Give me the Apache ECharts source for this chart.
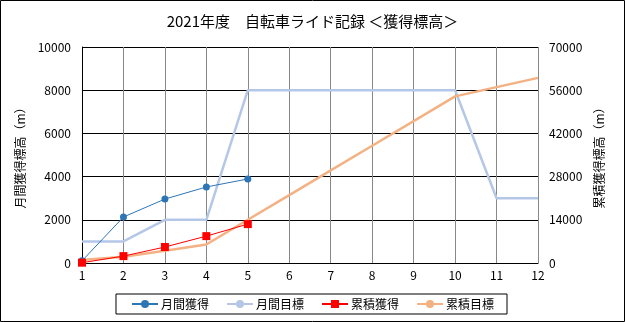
<!DOCTYPE html>
<html><head><meta charset="utf-8">
<script src="https://cdn.jsdelivr.net/npm/echarts@6/dist/echarts.min.js"></script>
<style>html,body{margin:0;padding:0;background:#fff}#c{width:625px;height:322px}</style>
</head><body><div id="c"></div>
<script>
const months = [1,2,3,4,5,6,7,8,9,10,11,12];
const monthlyActual = [100, 2130, 2960, 3520, 3890];
const monthlyTarget = [1000, 1000, 2000, 2000, 8000, 8000, 8000, 8000, 8000, 8000, 3000, 3000];
const cumActual = [100, 2230, 5190, 8710, 12600];
const cumTarget = [1000, 2000, 4000, 6000, 14000, 22000, 30000, 38000, 46000, 54000, 57000, 60000];
const leftTicks = [0, 2000, 4000, 6000, 8000, 10000];
const rightTicks = [0, 14000, 28000, 42000, 56000, 70000];
const titleText = '2021年度　自転車ライド記録 ＜獲得標高＞';
const names = ['月間獲得', '月間目標', '累積獲得', '累積目標'];

const pair = arr => arr.map((v, i) => [months[i], v]);
const F = '"Noto Sans CJK JP", "Noto Sans", sans-serif';
const chart = echarts.init(document.getElementById('c'));
chart.setOption({
  animation: false,
  textStyle: { fontFamily: F, color: '#000' },
  title: { text: titleText, left: 'center', top: 9, textStyle: { fontSize: 15, fontWeight: 'normal', color: '#000', fontFamily: F } },
  graphic: [{ type: 'rect', shape: { x: 0.5, y: 0.5, width: 624, height: 321 }, style: { fill: 'none', stroke: '#000', lineWidth: 1 }, silent: true }],
  grid: { left: 82, right: 87, top: 47, bottom: 59 },
  legend: {
    bottom: 8, left: 'center', data: names,
    borderColor: '#000', borderWidth: 1, padding: [2, 13, 2, 15],
    itemWidth: 26, itemHeight: 10, itemGap: 17,
    textStyle: { fontSize: 12, color: '#000', fontFamily: F, lineHeight: 16, padding: [0, 0, 0, -2] }
  },
  xAxis: {
    type: 'value', min: 1, max: 12, interval: 1,
    axisLine: { lineStyle: { color: '#000' } }, axisTick: { show: false },
    axisLabel: { fontSize: 12, color: '#000', margin: 6 },
    splitLine: { show: true, lineStyle: { color: '#888' } }
  },
  yAxis: [{
    type: 'value', min: leftTicks[0], max: leftTicks[leftTicks.length-1], interval: leftTicks[1]-leftTicks[0],
    name: '月間獲得標高（m）', nameLocation: 'middle', nameRotate: 90, nameGap: 43,
    nameTextStyle: { fontSize: 12, color: '#000' },
    axisLine: { show: true, lineStyle: { color: '#000' } }, axisTick: { show: false },
    axisLabel: { fontSize: 12, color: '#000', margin: 11, formatter: v => String(v) },
    splitLine: { lineStyle: { color: '#000' } }
  }, {
    type: 'value', min: rightTicks[0], max: rightTicks[rightTicks.length-1], interval: rightTicks[1]-rightTicks[0],
    name: '累積獲得標高（m）', nameLocation: 'middle', nameRotate: 90, nameGap: 47,
    nameTextStyle: { fontSize: 12, color: '#000' },
    axisLine: { show: false }, axisTick: { show: false },
    axisLabel: { fontSize: 12, color: '#000', margin: 11, formatter: v => String(v) },
    splitLine: { show: false }
  }],
  series: [
    { name: names[1], type: 'line', yAxisIndex: 0, data: pair(monthlyTarget), symbol: 'none', lineStyle: { color: '#b4c7e7', width: 2.5 }, itemStyle: { color: '#b4c7e7' }, z: 2 },
    { name: names[3], type: 'line', yAxisIndex: 1, data: pair(cumTarget), symbol: 'none', lineStyle: { color: '#f4b183', width: 2.5 }, itemStyle: { color: '#f4b183' }, z: 2 },
    { name: names[0], type: 'line', yAxisIndex: 0, data: pair(monthlyActual), symbol: 'circle', symbolSize: 7, lineStyle: { color: '#2e75b6', width: 1 }, itemStyle: { color: '#2e75b6' }, z: 3 },
    { name: names[2], type: 'line', yAxisIndex: 1, data: pair(cumActual), symbol: 'rect', symbolSize: 8, lineStyle: { color: '#ff0000', width: 1 }, itemStyle: { color: '#ff0000' }, z: 3 }
  ]
});
</script></body></html>
